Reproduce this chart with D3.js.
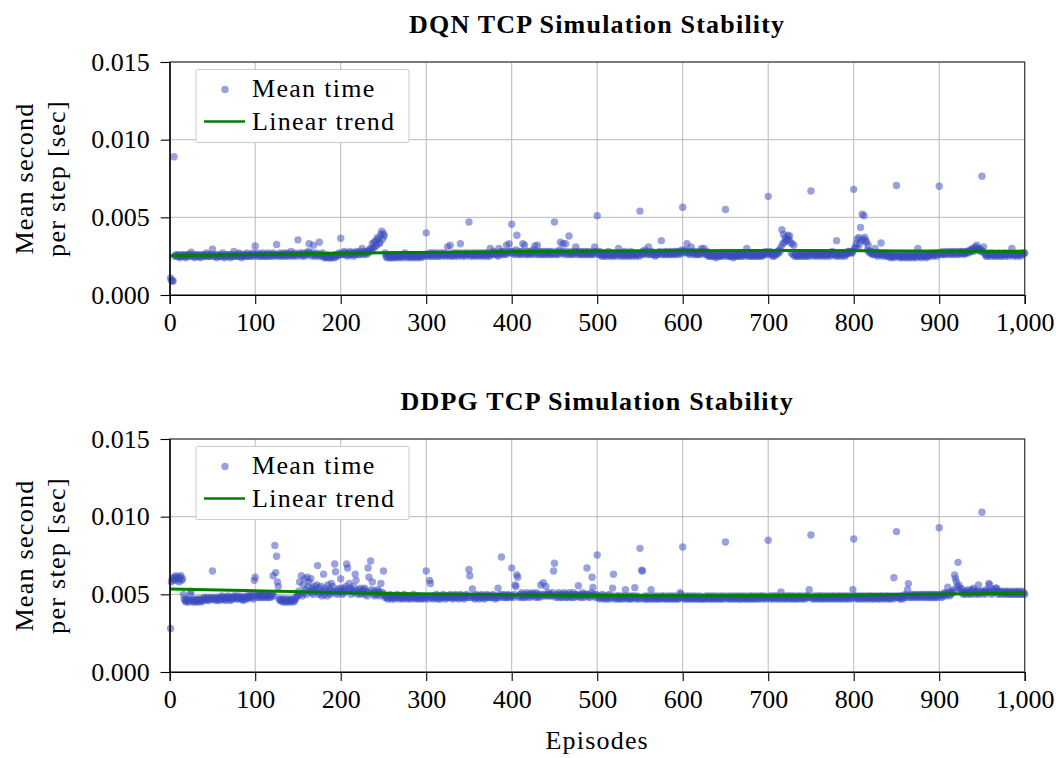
<!DOCTYPE html>
<html><head><meta charset="utf-8">
<script src="https://cdn.jsdelivr.net/npm/d3@7"></script>
<style>
body{margin:0;background:#fff;}
text{font-family:"Liberation Serif","Times New Roman",serif;}
</style>
</head><body>
<svg id="c" width="1056" height="758"></svg>
<script>
// ---- data ----
const episodes = d3.range(1, 1001);
const xTicks = [0,100,200,300,400,500,600,700,800,900,1000];
const xTickLabels = ["0","100","200","300","400","500","600","700","800","900","1,000"];
const yTicks = [0,0.005,0.010,0.015];
const yTickLabels = ["0.000","0.005","0.010","0.015"];
const titles = ["DQN TCP Simulation Stability","DDPG TCP Simulation Stability"];
const legendLabels = ["Mean time","Linear trend"];
const yLabelLines = ["Mean second","per step [sec]"];
const xLabel = "Episodes";

// mean time per step, units of 1e-4 s, episodes 1..1000
const dqnMeanTime = [
11,9.5,9,9,89, 25,26,25,25,26, 25,24,25,26,25, 26,25,25,24,26, 25,26,25,26,27.5,
25,26,25,24,25, 26,25,26,25,25, 24,26,25,26,25, 25,26,27,25,25, 26,25,26,25,29.5,
26,25,25,26,24, 25,26,25,25,26, 25,27,25,24,26, 25,25,26,25,26, 24,25,26,25,28,
25,26,25,25,26, 27,25,26,24,25, 26,25,26,25,27, 25,26,25,26,25, 26,27,25,26,31.5,
26,25,27,26,25, 26,25,26,27,25, 26,25,26,25,27, 26,25,26,25,26, 27,26,25,26,32.5,
26,25,26,27,25, 26,26,25,27,26, 25,26,27,26,25, 26,28,26,25,26, 27,26,25,26,35.5,
26,27,26,25,26, 27,26,25,26,27, 26,28,33,27,26, 25,27,32,26,25, 26,27,26,25,34,
26,25,26,27,25, 24,25,24,25,26, 24,25,24,25,24, 25,26,24,25,26, 25,26,27,26,36.5,
26,27,26,28,26, 27,26,25,27,26, 28,26,27,26,25, 27,26,28,27,26, 27,26,28,27,30,
26,27,28,27,26, 28,27,29,28,30, 29,33,30,34,31, 35,32,37,36,33, 34,39,41,36,39.5,
38,27,25,24,25, 26,24,25,24,26, 25,24,25,26,24, 25,26,25,24,25, 26,25,24,26,27,
25,26,24,25,26, 25,24,25,26,25, 24,25,26,25,24, 25,26,25,24,26, 25,26,25,26,40,
26,25,26,27,25, 26,25,27,26,25, 26,27,25,26,25, 26,27,26,25,26, 27,26,25,26,31,
26,25,32,26,25, 27,26,25,26,27, 26,25,26,27,33, 26,25,26,27,26, 25,26,27,26,47,
26,25,27,26,25, 26,27,26,25,26, 27,26,25,26,27, 26,25,26,27,26, 25,27,26,25,30,
26,27,26,28,27, 26,27,26,25,30, 27,26,28,27,26, 28,27,26,32,27, 28,33,27,28,45.5,
27,28,26,27,29, 38.5,27,26,28,27, 26,28,33,27,32, 26,27,28,26,27, 28,27,26,27,29,
27,31.5,26,28,32, 27,26,28,27,26, 28,27,26,27,28, 26,27,28,27,26, 27,28,26,27,47,
27,26,28,27,26, 29,34,27,28,33, 27,26,33,28,27, 26,38,27,26,28, 27,26,27,28,31,
27,26,28,27,26, 27,28,26,27,26, 28,27,26,27,28, 26,27,26,27,28, 26,31,27,28,51,
27,26,28,26,25, 26,27,25,26,27, 25,26,28,26,25, 27,26,25,26,27, 26,25,26,27,30,
26,25,27,26,25, 26,28,26,25,26, 27,25,26,28,26, 25,26,27,26,25, 26,27,26,25,54,
26,27,28,26,27, 29,27,28,26,31, 27,26,27,28,26, 27,26,25,26,27, 26,27,28,27,35,
26,27,26,28,27, 26,27,28,26,27, 26,28,27,26,27, 28,26,27,28,27, 26,28,27,29,56.5,
28,27,29,28,33, 27,28,26,27,31, 28,27,26,28,27, 26,27,26,28,27, 26,30,28,27,30,
27,26,28,26,25, 26,25,26,25,26, 25,26,25,24,26, 25,26,25,26,25, 26,25,26,27,55,
26,25,26,25,26, 25,26,25,24,26, 25,26,25,26,25, 26,25,26,25,26, 27,26,25,26,30,
26,25,26,25,26, 25,26,27,25,26, 25,26,25,26,27, 25,26,25,26,27, 26,28,27,26,63.5,
27,28,27,26,25, 26,25,26,27,26, 28,27,29,28,31, 42,33,39,34,37, 35,35.5,38.5,36,38,
34,27,33,26,32, 25,26,25,26,25, 26,25,26,27,25, 26,25,26,27,25, 26,25,26,27,67,
26,25,26,27,26, 25,26,27,26,25, 26,27,26,25,26, 27,26,25,26,27, 26,25,26,27,28,
26,27,26,25,35, 26,25,26,27,26, 25,26,27,26,25, 26,27,28,27,28, 27,28,27,28,68,
30,31,33,36,30, 37,33,43.5,35,52, 36,51,37,35,34, 29,32,28,27,28, 27,26,27,26,30,
27,26,25,26,27, 26,33.5,26,25,26, 27,26,25,26,25, 26,25,24,25,26, 25,24,25,26,70.5,
25,26,25,24,25, 26,25,24,25,26, 25,24,26,25,24, 25,26,25,24,25, 26,25,24,26,30,
25,26,25,24,25, 26,25,26,25,24, 26,25,26,25,26, 27,26,25,26,27, 26,25,27,26,70,
27,26,27,28,26, 27,26,27,28,27, 26,27,28,27,26, 27,28,27,26,27, 28,27,26,27,28,
27,28,27,26,27, 28,27,28,27,28, 29,28,29,30,28, 29,31,30,32,30, 29,30,28,29,76.5,
28,31,27,26,25, 26,25,26,27,26, 25,26,27,26,25, 26,25,26,27,26, 25,26,25,26,27,
26,25,26,27,26, 25,26,27,26,30, 26,25,26,27,26, 25,26,27,26,25, 26,27,26,27,27
];

const ddpgMeanTime = [
28,58,60,59,61, 60,62,59,61,60, 58,61,62,59,60, 50,47,46,45,46, 47,45,46,50,52,
46,45,47,46,45, 46,47,45,46,47, 46,45,46,47,48, 47,46,47,48,47, 46,47,48,47,65,
47,48,47,46,47, 48,47,46,48,47, 49,47,48,47,46, 48,47,49,48,47, 46,48,47,48,49,
48,47,49,48,47, 48,49,47,48,47, 46,48,47,49,48, 47,48,49,48,50, 49,48,47,59,61,
50,49,48,50,49, 48,50,49,48,49, 50,48,49,50,48, 49,50,48,49,50, 62,49,81.5,64,74.5,
58,55,47,46,47, 46,45,47,46,45, 47,46,45,46,47, 45,46,47,46,45, 46,47,48,49,50,
52,58,50,62,49, 56,51,60,53,50, 61,55,58,52,60, 51,54,50,53,55, 52,56,68.5,50,54,
51,55,49,52,63, 50,54,52,49,56, 51,53,50,57,52, 55,51,69.5,64.5,52, 50,53,51,54,60,
52,50,54,51,53, 55,69.5,67,52,57, 54,50,53,52,55, 51,63,59,52,50, 53,51,54,50,52,
51,53,54,50,52, 49,67,61,51,71.5, 53,58,50,52,49, 51,50,53,51,52, 49,57,50,51,65,
50,48,49,48,47, 49,48,50,47,48, 49,48,47,49,48, 50,48,49,47,48, 49,48,47,50,48,
49,48,47,48,49, 48,47,49,48,50, 48,47,48,49,48, 47,49,48,47,48, 49,48,47,48,65,
48,49,47,59,57, 48,49,48,47,49, 48,50,48,47,49, 48,47,49,48,50, 49,48,47,49,48,
49,48,50,49,48, 47,49,48,50,48, 49,48,47,49,50, 48,49,48,47,49, 48,50,49,48,66,
62,48,49,53.5,48, 49,47,48,50,49, 48,47,49,48,50, 49,48,47,49,48, 50,49,48,49,48,
49,48,50,49,48, 47,49,48,54,49, 48,50,74,49,48, 50,49,48,49,48, 50,49,48,49,67,
49,48,50,56,55, 62.5,61,49,48,50, 49,51,48,49,50, 48,49,51,50,49, 48,50,49,51,50,
49,50,48,51,49, 50,48,49,56,50, 49,57.5,50,49,55, 50,49,51,50,49, 50,49,51,65,70,
49,48,50,49,51, 48,50,49,48,50, 51,49,48,50,49, 48,51,49,50,48, 49,51,48,50,49,
50,49,55.5,49,48, 50,49,51,48,50, 49,50,67,49,50, 48,49,51,61,54.5, 50,49,48,50,75.3,
49,48,47,49,48, 50,48,47,49,48, 47,49,48,50,47, 48,49,54,63,48, 47,49,48,47,49,
48,47,49,48,47, 48,49,53,48,47, 49,48,47,48,49, 47,48,49,54.3,48, 47,49,48,47,79.6,
48,65.5,65,47,48, 49,47,48,47,49, 48,47,53,48,47, 49,48,47,48,49, 47,48,47,48,49,
48,47,49,48,47, 48,47,49,48,47, 48,49,47,48,47, 49,48,47,48,47, 48,51,50,48,80.5,
47,48,49,47,48, 47,49,48,47,48, 49,47,48,47,49, 48,47,48,47,49, 48,47,48,47,48,
47,49,48,47,48, 49,47,48,47,49, 48,47,48,49,47, 48,47,48,49,47, 48,47,49,48,83.7,
48,47,49,48,47, 48,49,47,48,47, 49,48,47,48,49, 47,48,47,49,48, 47,48,49,47,48,
47,48,49,47,48, 49,47,48,47,49, 48,47,48,49,47, 48,49,48,47,48, 49,48,47,48,84.8,
48,49,47,48,49, 47,48,49,48,47, 49,48,47,48,51.5, 48,47,49,48,47, 48,49,48,47,49,
48,47,49,48,47, 49,48,47,48,49, 47,48,49,48,47, 48,49,47,48,49, 48,49,53,48,88.2,
48,47,49,48,47, 48,49,48,47,49, 48,47,49,48,47, 48,49,48,47,49, 48,47,48,49,48,
47,49,48,47,48, 49,48,47,49,48, 47,48,49,48,47, 49,48,47,48,49, 48,47,48,53,85.6,
49,48,47,49,48, 47,48,49,48,47, 49,48,47,48,49, 48,47,48,49,48, 47,49,48,47,48,
49,48,47,48,49, 47,48,49,48,47, 48,49,48,47,49, 48,47,48,49,48, 47,60.7,49,48,90.4,
48,49,48,47,49, 48,47,49,48,50, 49,48,53,56.9,49, 48,50,49,48,49, 50,48,49,50,49,
48,49,50,48,49, 50,49,48,50,49, 48,50,49,48,50, 49,48,50,49,48, 50,49,48,50,92.9,
49,50,48,49,50, 51,49,50,51,54.6, 50,49,51,50,52, 51,53,62.5,60.3,58.2, 55,70.6,56,53.8,52,
53.8,51,50,52,51, 50,52,51,53,50, 51,52,50,53,54, 51,52,50,51,52, 56,50,51,52,102.8,
51,52,50,51,53, 52,51,57,56,52, 50,51,53,52,51, 54,54,52,50,51, 52,50,51,52,51,
50,51,52,50,51, 52,50,51,50,52, 51,50,51,52,50, 51,50,52,51,50, 51,52,50,51,50
];

// linear trend (units of 1e-4 s)
const trendEpisodes = [0,250,500,750,1000];
const dqnTrend = [25.3,27.2,28.3,28.6,28.0];
const ddpgTrend = [53.4,50.6,49.2,49.3,50.8];

// ---- drawing ----
const svg = d3.select("#c");
svg.append("rect").attr("width",1056).attr("height",758).attr("fill","#fff");
const X0 = 169.7, X1 = 1024.7, PH = 233;
const blue = "#3b4cc0", green = "#008000", gridC = "#b9b9b9";
const R = 3.7;

function panel(top, title, values, trendVals) {
  const x = d3.scaleLinear().domain([0,1000]).range([X0,X1]);
  const y = d3.scaleLinear().domain([0,0.015]).range([top+PH, top]);
  const g = svg.append("g");

  g.append("g").selectAll("line").data(xTicks).join("line")
    .attr("x1",d=>x(d)).attr("x2",d=>x(d)).attr("y1",top).attr("y2",top+PH)
    .attr("stroke",gridC).attr("stroke-width",1);
  g.append("g").selectAll("line").data(yTicks).join("line")
    .attr("x1",X0).attr("x2",X1).attr("y1",d=>y(d)).attr("y2",d=>y(d))
    .attr("stroke",gridC).attr("stroke-width",1);

  g.append("g").selectAll("circle").data(values).join("circle")
    .attr("cx",(d,i)=>x(episodes[i])).attr("cy",d=>y(d*1e-4))
    .attr("r",R).attr("fill",blue).attr("fill-opacity",0.52);

  const line = d3.line().x((d,i)=>x(trendEpisodes[i])).y(d=>y(d*1e-4)).curve(d3.curveNatural);
  g.append("path").datum(trendVals).attr("d",line).attr("fill","none")
    .attr("stroke",green).attr("stroke-width",3);

  g.append("rect").attr("x",X0).attr("y",top).attr("width",X1-X0).attr("height",PH)
    .attr("fill","none").attr("stroke","#3a3a3a").attr("stroke-width",1.2);

  const ay = g.append("g").attr("transform",`translate(${X0},0)`)
    .call(d3.axisLeft(y).tickValues(yTicks).tickFormat((d,i)=>yTickLabels[i]).tickSize(9).tickPadding(11));
  const ax = g.append("g").attr("transform",`translate(0,${top+PH})`)
    .call(d3.axisBottom(x).tickValues(xTicks).tickFormat((d,i)=>xTickLabels[i]).tickSize(9).tickPadding(9));
  [ax,ay].forEach(a=>{
    a.attr("font-size",26).attr("font-family","Liberation Serif, serif");
    a.select(".domain").attr("stroke","#000").attr("stroke-width",1.2);
    a.selectAll(".tick line").attr("stroke","#000").attr("stroke-width",1.1);
    a.selectAll(".tick text").attr("fill","#000");
  });

  svg.append("text").attr("x",(X0+X1)/2).attr("y",top-29).attr("text-anchor","middle")
    .attr("font-size",26).attr("font-weight","bold").attr("letter-spacing",1.2)
    .attr("fill","#000").text(title);

  const cy = top + PH/2;
  [33,65].forEach((bx,i)=>{
    svg.append("text").attr("transform",`translate(${bx},${cy}) rotate(-90)`)
      .attr("text-anchor","middle").attr("font-size",26).attr("letter-spacing",1.3)
      .attr("fill","#000").text(yLabelLines[i]);
  });

  const lg = svg.append("g").attr("transform",`translate(0,${top-62})`);
  lg.append("rect").attr("x",196).attr("y",69.5).attr("width",213).attr("height",73)
    .attr("rx",1.5).attr("fill","#fff").attr("stroke","#cccccc").attr("stroke-width",1);
  lg.append("circle").attr("cx",225).attr("cy",89.5).attr("r",R).attr("fill",blue).attr("fill-opacity",0.52);
  lg.append("text").attr("x",252).attr("y",97).attr("font-size",26).attr("letter-spacing",1.3)
    .attr("fill","#000").text(legendLabels[0]);
  lg.append("line").attr("x1",204).attr("x2",245).attr("y1",121.5).attr("y2",121.5)
    .attr("stroke",green).attr("stroke-width",2.5);
  lg.append("text").attr("x",252).attr("y",130).attr("font-size",26).attr("letter-spacing",1.3)
    .attr("fill","#000").text(legendLabels[1]);
}

panel(62, titles[0], dqnMeanTime, dqnTrend);
panel(439, titles[1], ddpgMeanTime, ddpgTrend);

svg.append("text").attr("x",(X0+X1)/2).attr("y",749).attr("text-anchor","middle")
  .attr("font-size",26).attr("letter-spacing",1.2).attr("fill","#000").text(xLabel);
</script>
</body></html>
